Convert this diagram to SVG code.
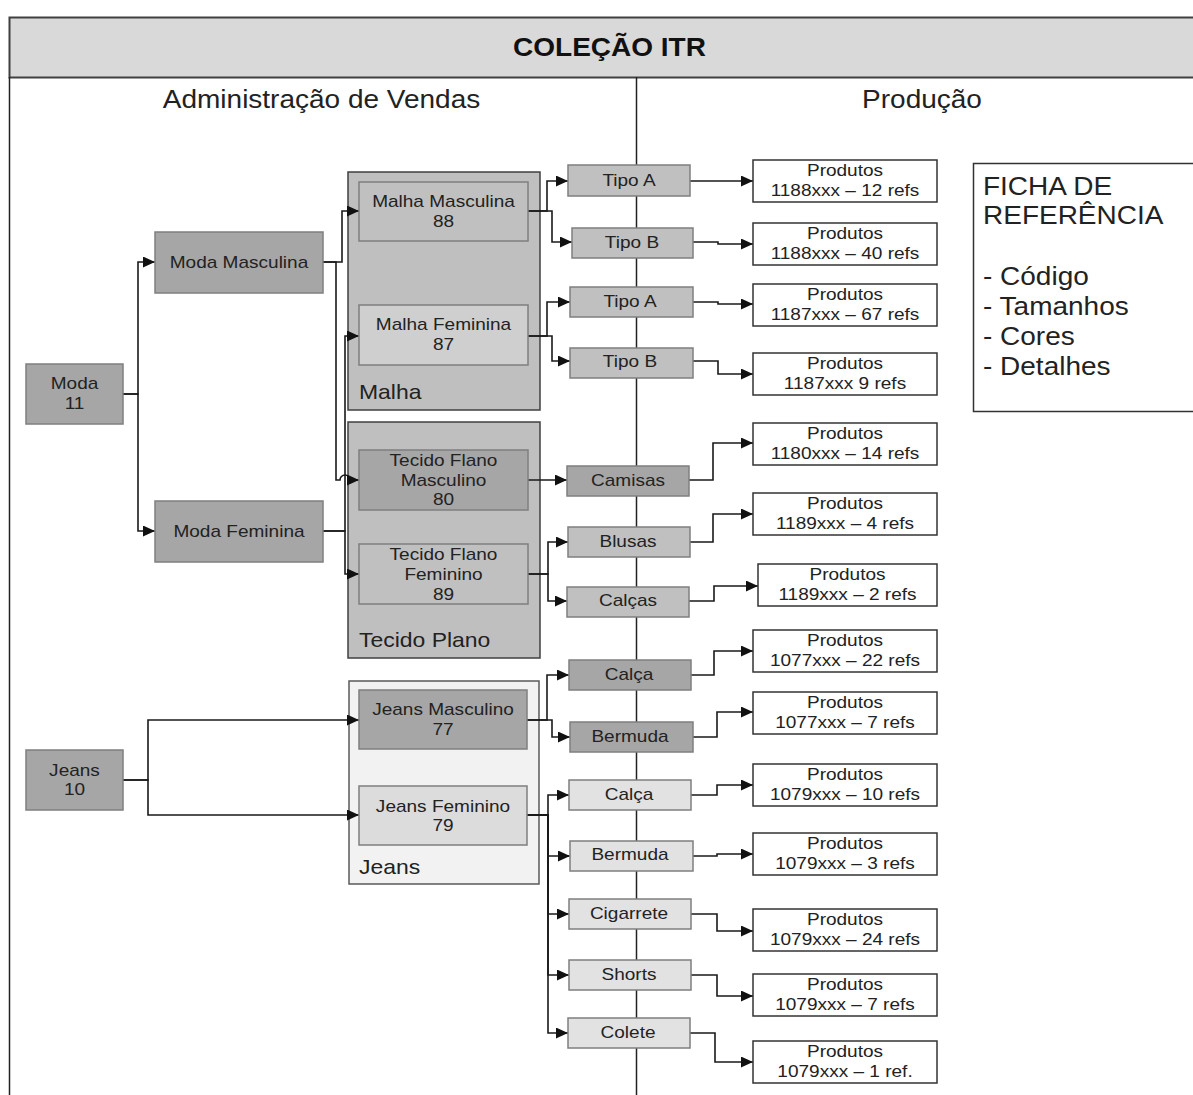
<svg xmlns="http://www.w3.org/2000/svg" width="1193" height="1095" viewBox="0 0 1193 1095">
  <style>
    text { font-family: "Liberation Sans", Arial, sans-serif; fill: #222; }
    .c { text-anchor: middle; }
    .n { font-size: 17px; }
    .h { font-size: 25px; }
    .ttl { font-size: 25px; font-weight: bold; fill: #111; }
    .glabel { font-size: 20.5px; }
    .ficha { font-size: 25px; }
    .dark { fill: #a6a6a6; stroke: #7f7f7f; stroke-width: 1.5; }
    .mid { fill: #c0c0c0; stroke: #7f7f7f; stroke-width: 1.5; }
    .mid2 { fill: #cfcfcf; stroke: #7f7f7f; stroke-width: 1.5; }
    .light { fill: #dcdcdc; stroke: #7f7f7f; stroke-width: 1.5; }
    .light2 { fill: #e2e2e2; stroke: #7f7f7f; stroke-width: 1.5; }
    .grp { fill: #bfbfbf; stroke: #404040; stroke-width: 1.5; }
    .grpj { fill: #f2f2f2; stroke: #595959; stroke-width: 1.5; }
    .prod { fill: #ffffff; stroke: #333; stroke-width: 1.5; }
    .frame { fill: none; stroke: #222; stroke-width: 1.5; }
    .conn path { fill: none; stroke: #1a1a1a; stroke-width: 1.6; marker-end: url(#arrow); }
  </style>
  <defs>
    <marker id="arrow" markerUnits="userSpaceOnUse" markerWidth="13" markerHeight="11" refX="12" refY="5.5" orient="auto">
      <path d="M0,0 L12,5.5 L0,11 Z" fill="#111"/>
    </marker>
  </defs>

  <rect width="1193" height="1095" fill="#ffffff"/>

  <!-- frame: title band, outer left border, column divider -->
  <g id="frame">
    <rect x="9.5" y="17.5" width="1200" height="60" fill="#d9d9d9" stroke="#404040" stroke-width="2"/>
    <line class="frame" x1="9.5" y1="77" x2="9.5" y2="1095"/>
    <line class="frame" x1="636.5" y1="77" x2="636.5" y2="1095"/>
    <text class="ttl c" transform="matrix(1.12 0 0 1 609.5 56)">COLEÇÃO ITR</text>
    <text class="h c" transform="matrix(1.12 0 0 1 321.5 108)">Administração de Vendas</text>
    <text class="h c" transform="matrix(1.12 0 0 1 922 108)">Produção</text>
  </g>

  <!-- containers -->
  <g id="grp-malha">
    <rect class="grp" x="348" y="172" width="192" height="238"/>
    <text class="glabel" transform="matrix(1.12 0 0 1 359 399)">Malha</text>
  </g>
  <g id="grp-tecido">
    <rect class="grp" x="348" y="422" width="192" height="236"/>
    <text class="glabel" transform="matrix(1.12 0 0 1 359 647)">Tecido Plano</text>
  </g>
  <g id="grp-jeans">
    <rect class="grpj" x="349" y="681" width="190" height="203"/>
    <text class="glabel" transform="matrix(1.12 0 0 1 359 874)">Jeans</text>
  </g>

  <!-- connectors -->
  <g id="connectors" class="conn">
    <path d="M123,394 H138 V262 H155"/>
    <path d="M123,394 H138 V531 H155"/>
    <path d="M323,262 H342 V211 H359"/>
    <path d="M323,262 H336 V480 H340 A5,5 0 0 1 350,480 H359"/>
    <path d="M323,531 H345 V336 H359"/>
    <path d="M323,531 H345 V574 H359"/>

    <path d="M528,211 H547 V181 H568"/>
    <path d="M528,211 H552 V242 H572"/>
    <path d="M528,336 H547 V302 H570"/>
    <path d="M528,336 H552 V361 H570"/>
    <path d="M528,480 H567"/>
    <path d="M528,574 H548 V542 H568"/>
    <path d="M528,574 H548 V601 H567"/>

    <path d="M123,780 H148 V720 H359"/>
    <path d="M123,780 H148 V815 H359"/>
    <path d="M527,720 H547 V675 H569"/>
    <path d="M527,720 H552 V737 H570"/>
    <path d="M527,815 H548 V795 H569"/>
    <path d="M527,815 H548 V856 H570"/>
    <path d="M527,815 H548 V914 H569"/>
    <path d="M527,815 H548 V975 H569"/>
    <path d="M527,815 H548 V1033 H568"/>

    <path d="M690,181 H753"/>
    <path d="M693,242 H718 V244 H753"/>
    <path d="M693,302 H718 V304 H753"/>
    <path d="M693,361 H718 V374 H753"/>
    <path d="M689,480 H713 V443 H753"/>
    <path d="M690,542 H713 V514 H753"/>
    <path d="M689,601 H714 V586 H758"/>
    <path d="M691,675 H714 V651 H753"/>
    <path d="M693,737 H717 V712 H753"/>
    <path d="M691,795 H717 V785 H753"/>
    <path d="M693,856 H717 V854 H753"/>
    <path d="M691,914 H717 V931 H753"/>
    <path d="M691,975 H717 V996 H753"/>
    <path d="M690,1033 H715 V1062 H753"/>
  </g>

  <!-- sales administration nodes -->
  <g id="moda">
    <rect class="dark" x="26" y="364" width="97" height="60"/>
    <text class="n c" transform="matrix(1.12 0 0 1 74.5 389)">Moda<tspan x="0" dy="20">11</tspan></text>
  </g>
  <g id="moda-masculina">
    <rect class="dark" x="155" y="232" width="168" height="61"/>
    <text class="n c" transform="matrix(1.12 0 0 1 239 268)">Moda Masculina</text>
  </g>
  <g id="moda-feminina">
    <rect class="dark" x="155" y="501" width="168" height="61"/>
    <text class="n c" transform="matrix(1.12 0 0 1 239 537)">Moda Feminina</text>
  </g>
  <g id="jeans">
    <rect class="dark" x="26" y="750" width="97" height="60"/>
    <text class="n c" transform="matrix(1.12 0 0 1 74.5 776)">Jeans<tspan x="0" dy="19">10</tspan></text>
  </g>

  <g id="malha-masculina">
    <rect class="mid" x="359" y="182" width="169" height="59"/>
    <text class="n c" transform="matrix(1.12 0 0 1 443.5 207)">Malha Masculina<tspan x="0" dy="20">88</tspan></text>
  </g>
  <g id="malha-feminina">
    <rect class="mid2" x="359" y="305" width="169" height="60"/>
    <text class="n c" transform="matrix(1.12 0 0 1 443.5 330)">Malha Feminina<tspan x="0" dy="20">87</tspan></text>
  </g>
  <g id="tecido-masculino">
    <rect class="dark" x="359" y="450" width="169" height="60"/>
    <text class="n c" transform="matrix(1.12 0 0 1 443.5 466)">Tecido Flano<tspan x="0" dy="20">Masculino</tspan><tspan x="0" dy="19">80</tspan></text>
  </g>
  <g id="tecido-feminino">
    <rect class="mid" x="359" y="544" width="169" height="60"/>
    <text class="n c" transform="matrix(1.12 0 0 1 443.5 560)">Tecido Flano<tspan x="0" dy="20">Feminino</tspan><tspan x="0" dy="20">89</tspan></text>
  </g>
  <g id="jeans-masculino">
    <rect class="dark" x="359" y="690" width="168" height="59"/>
    <text class="n c" transform="matrix(1.12 0 0 1 443 715)">Jeans Masculino<tspan x="0" dy="20">77</tspan></text>
  </g>
  <g id="jeans-feminino">
    <rect class="light" x="359" y="786" width="168" height="59"/>
    <text class="n c" transform="matrix(1.12 0 0 1 443 812)">Jeans Feminino<tspan x="0" dy="19">79</tspan></text>
  </g>

  <!-- production categories -->
  <g id="tipo-a-88">
    <rect class="mid" x="568" y="165" width="122" height="31"/>
    <text class="n c" transform="matrix(1.12 0 0 1 629 186)">Tipo A</text>
  </g>
  <g id="tipo-b-88">
    <rect class="mid" x="572" y="228" width="121" height="30"/>
    <text class="n c" transform="matrix(1.12 0 0 1 632 248)">Tipo B</text>
  </g>
  <g id="tipo-a-87">
    <rect class="mid" x="570" y="287" width="123" height="30"/>
    <text class="n c" transform="matrix(1.12 0 0 1 630 307)">Tipo A</text>
  </g>
  <g id="tipo-b-87">
    <rect class="mid" x="570" y="348" width="123" height="30"/>
    <text class="n c" transform="matrix(1.12 0 0 1 630 367)">Tipo B</text>
  </g>
  <g id="camisas">
    <rect class="dark" x="567" y="466" width="122" height="30"/>
    <text class="n c" transform="matrix(1.12 0 0 1 628 486)">Camisas</text>
  </g>
  <g id="blusas">
    <rect class="mid" x="568" y="527" width="122" height="30"/>
    <text class="n c" transform="matrix(1.12 0 0 1 628 547)">Blusas</text>
  </g>
  <g id="calcas">
    <rect class="mid" x="567" y="587" width="122" height="30"/>
    <text class="n c" transform="matrix(1.12 0 0 1 628 606)">Calças</text>
  </g>
  <g id="calca-77">
    <rect class="dark" x="569" y="660" width="122" height="30"/>
    <text class="n c" transform="matrix(1.12 0 0 1 629 680)">Calça</text>
  </g>
  <g id="bermuda-77">
    <rect class="dark" x="570" y="722" width="123" height="30"/>
    <text class="n c" transform="matrix(1.12 0 0 1 630 742)">Bermuda</text>
  </g>
  <g id="calca-79">
    <rect class="light2" x="569" y="780" width="122" height="30"/>
    <text class="n c" transform="matrix(1.12 0 0 1 629 800)">Calça</text>
  </g>
  <g id="bermuda-79">
    <rect class="light2" x="570" y="841" width="123" height="30"/>
    <text class="n c" transform="matrix(1.12 0 0 1 630 860)">Bermuda</text>
  </g>
  <g id="cigarrete">
    <rect class="light2" x="569" y="899" width="122" height="30"/>
    <text class="n c" transform="matrix(1.12 0 0 1 629 919)">Cigarrete</text>
  </g>
  <g id="shorts">
    <rect class="light2" x="569" y="960" width="122" height="30"/>
    <text class="n c" transform="matrix(1.12 0 0 1 629 980)">Shorts</text>
  </g>
  <g id="colete">
    <rect class="light2" x="568" y="1018" width="122" height="30"/>
    <text class="n c" transform="matrix(1.12 0 0 1 628 1038)">Colete</text>
  </g>

  <!-- product reference ranges -->
  <g id="prod-1188a">
    <rect class="prod" x="753" y="160" width="184" height="42"/>
    <text class="n c" transform="matrix(1.12 0 0 1 845 176)">Produtos<tspan x="0" dy="20">1188xxx – 12 refs</tspan></text>
  </g>
  <g id="prod-1188b">
    <rect class="prod" x="753" y="223" width="184" height="42"/>
    <text class="n c" transform="matrix(1.12 0 0 1 845 239)">Produtos<tspan x="0" dy="20">1188xxx – 40 refs</tspan></text>
  </g>
  <g id="prod-1187a">
    <rect class="prod" x="753" y="284" width="184" height="42"/>
    <text class="n c" transform="matrix(1.12 0 0 1 845 300)">Produtos<tspan x="0" dy="20">1187xxx – 67 refs</tspan></text>
  </g>
  <g id="prod-1187b">
    <rect class="prod" x="753" y="353" width="184" height="42"/>
    <text class="n c" transform="matrix(1.12 0 0 1 845 369)">Produtos<tspan x="0" dy="20">1187xxx 9 refs</tspan></text>
  </g>
  <g id="prod-1180">
    <rect class="prod" x="753" y="423" width="184" height="42"/>
    <text class="n c" transform="matrix(1.12 0 0 1 845 439)">Produtos<tspan x="0" dy="20">1180xxx – 14 refs</tspan></text>
  </g>
  <g id="prod-1189a">
    <rect class="prod" x="753" y="493" width="184" height="42"/>
    <text class="n c" transform="matrix(1.12 0 0 1 845 509)">Produtos<tspan x="0" dy="20">1189xxx – 4 refs</tspan></text>
  </g>
  <g id="prod-1189b">
    <rect class="prod" x="758" y="564" width="179" height="42"/>
    <text class="n c" transform="matrix(1.12 0 0 1 847.5 580)">Produtos<tspan x="0" dy="20">1189xxx – 2 refs</tspan></text>
  </g>
  <g id="prod-1077a">
    <rect class="prod" x="753" y="630" width="184" height="42"/>
    <text class="n c" transform="matrix(1.12 0 0 1 845 646)">Produtos<tspan x="0" dy="20">1077xxx – 22 refs</tspan></text>
  </g>
  <g id="prod-1077b">
    <rect class="prod" x="753" y="692" width="184" height="42"/>
    <text class="n c" transform="matrix(1.12 0 0 1 845 708)">Produtos<tspan x="0" dy="20">1077xxx – 7 refs</tspan></text>
  </g>
  <g id="prod-1079a">
    <rect class="prod" x="753" y="764" width="184" height="42"/>
    <text class="n c" transform="matrix(1.12 0 0 1 845 780)">Produtos<tspan x="0" dy="20">1079xxx – 10 refs</tspan></text>
  </g>
  <g id="prod-1079b">
    <rect class="prod" x="753" y="833" width="184" height="42"/>
    <text class="n c" transform="matrix(1.12 0 0 1 845 849)">Produtos<tspan x="0" dy="20">1079xxx – 3 refs</tspan></text>
  </g>
  <g id="prod-1079c">
    <rect class="prod" x="753" y="909" width="184" height="42"/>
    <text class="n c" transform="matrix(1.12 0 0 1 845 925)">Produtos<tspan x="0" dy="20">1079xxx – 24 refs</tspan></text>
  </g>
  <g id="prod-1079d">
    <rect class="prod" x="753" y="974" width="184" height="42"/>
    <text class="n c" transform="matrix(1.12 0 0 1 845 990)">Produtos<tspan x="0" dy="20">1079xxx – 7 refs</tspan></text>
  </g>
  <g id="prod-1079e">
    <rect class="prod" x="753" y="1041" width="184" height="42"/>
    <text class="n c" transform="matrix(1.12 0 0 1 845 1057)">Produtos<tspan x="0" dy="20">1079xxx – 1 ref.</tspan></text>
  </g>

  <!-- reference sheet legend -->
  <g id="ficha">
    <rect x="973.5" y="163.5" width="230" height="248" fill="#ffffff" stroke="#333" stroke-width="1.5"/>
    <text class="ficha" transform="matrix(1.12 0 0 1 983 195)">FICHA DE<tspan x="0" dy="29">REFERÊNCIA</tspan><tspan x="0" dy="61">- Código</tspan><tspan x="0" dy="30">- Tamanhos</tspan><tspan x="0" dy="30">- Cores</tspan><tspan x="0" dy="30">- Detalhes</tspan></text>
  </g>
</svg>
